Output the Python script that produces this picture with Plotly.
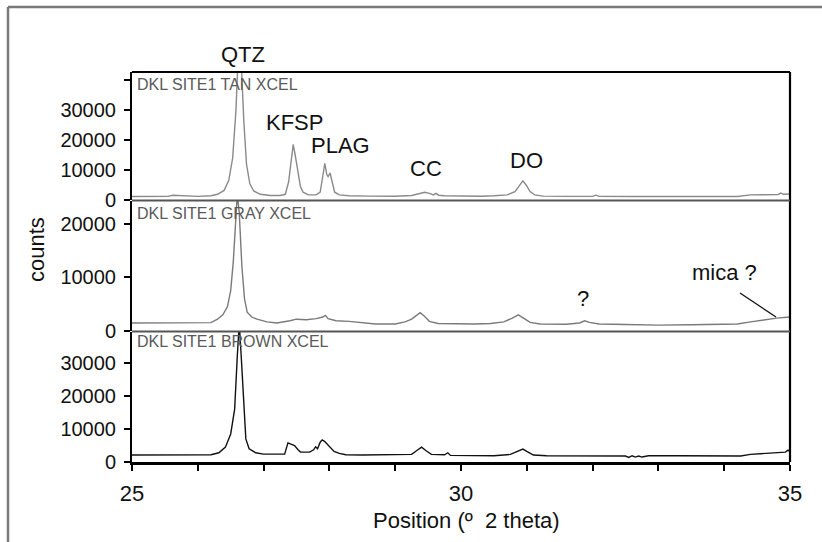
import plotly.graph_objects as go

# ---------------- data ----------------
tan_x = [25.00, 25.30, 25.55, 25.62, 25.70, 25.78, 26.00, 26.20, 26.30, 26.40, 26.47, 26.53, 26.58, 26.61,
         26.66, 26.70, 26.74, 26.79, 26.85, 26.95, 27.10, 27.25, 27.33, 27.38, 27.42, 27.45, 27.48, 27.52,
         27.56, 27.60, 27.68, 27.80, 27.86, 27.90, 27.93, 27.96, 27.98, 28.01, 28.04, 28.08, 28.15, 28.30,
         28.60, 29.00, 29.25, 29.38, 29.45, 29.52, 29.58, 29.62, 29.66, 29.75, 30.00, 30.30, 30.50, 30.70,
         30.82, 30.89, 30.94, 30.99, 31.05, 31.12, 31.25, 31.60, 32.00, 32.05, 32.10, 32.60, 33.50, 34.20,
         34.40, 34.70, 34.82, 34.86, 34.90, 35.00]
tan_y = [1150, 1150, 1200, 1600, 1500, 1250, 1200, 1400, 1900, 3200, 6500, 14000, 30000, 46000,
         46000, 26000, 12000, 5500, 3000, 1900, 1500, 1500, 1900, 6000, 14000, 18500, 15000, 9500,
         4500, 2600, 1700, 1700, 2600, 8000, 12200, 8500, 7800, 9000, 6500, 2600, 1700, 1400,
         1300, 1250, 1500, 2300, 2600, 2200, 1700, 2200, 1600, 1400, 1250, 1250, 1400, 1700,
         2800, 4800, 6400, 5000, 2800, 1700, 1300, 1200, 1200, 1600, 1200, 1150, 1150, 1150,
         1700, 1750, 1800, 2300, 1900, 2000]

gray_x = [25.00, 25.50, 26.00, 26.20, 26.30, 26.38, 26.45, 26.50, 26.54, 26.57, 26.60, 26.63, 26.67,
          26.71, 26.75, 26.82, 26.90, 27.05, 27.20, 27.40, 27.50, 27.65, 27.80, 27.90, 27.94, 27.98,
          28.10, 28.30, 28.50, 28.70, 29.00, 29.15, 29.25, 29.33, 29.38, 29.44, 29.52, 29.65, 29.90,
          30.20, 30.45, 30.65, 30.78, 30.87, 30.95, 31.05, 31.20, 31.60, 31.80, 31.88, 31.95, 32.10,
          32.50, 33.00, 33.50, 34.00, 34.20, 34.40, 34.60, 34.80, 35.00]
gray_y = [1500, 1500, 1500, 1550, 2200, 3000, 4500, 7500, 13000, 20000, 25500, 22000, 12000,
          6000, 3500, 2600, 2200, 1700, 1500, 1900, 2200, 2100, 2300, 2600, 2900, 2300,
          1900, 1800, 1500, 1300, 1300, 1700, 2200, 3000, 3400, 2800, 1800, 1400, 1300,
          1300, 1400, 1700, 2400, 3000, 2400, 1600, 1300, 1250, 1500, 1900, 1600, 1300,
          1200, 1100, 1150, 1200, 1300, 1700, 2100, 2400, 2600]

brown_x = [25.00, 25.50, 26.00, 26.20, 26.32, 26.42, 26.50, 26.56, 26.60, 26.63, 26.66, 26.70, 26.73,
           26.78, 26.88, 27.00, 27.20, 27.32, 27.37, 27.42, 27.47, 27.52, 27.56, 27.70, 27.76, 27.79,
           27.82, 27.86, 27.89, 27.93, 28.00, 28.07, 28.15, 28.25, 28.50, 29.00, 29.25, 29.35, 29.40,
           29.47, 29.55, 29.75, 29.80, 29.84, 30.10, 30.50, 30.75, 30.88, 30.94, 31.00, 31.10, 31.30,
           31.80, 32.20, 32.50, 32.55, 32.60, 32.65, 32.70, 32.75, 32.85, 33.30, 33.80, 34.25, 34.40,
           34.70, 34.93, 34.97, 35.00]
brown_y = [2100, 2100, 2100, 2200, 2800, 4500, 8500, 16000, 32000, 42000, 32000, 15000, 7000,
           4000, 2800, 2400, 2300, 2400, 5800, 5300, 5000, 3800, 3000, 3000, 3700, 4600,
           4000, 6000, 6700, 6200, 4800, 3200, 2600, 2200, 2100, 2100, 2300, 3800, 4500,
           3400, 2300, 2200, 2800, 2000, 1900, 1900, 2300, 3500, 3900, 3200, 2100, 1900,
           1900, 2000, 1800, 1400, 1900, 1500, 1800, 1500, 1900, 1900, 1800, 1800, 2300,
           2700, 3000, 3600, 3200]

panel_names = ["DKL SITE1 TAN XCEL", "DKL SITE1 GRAY XCEL", "DKL SITE1 BROWN XCEL"]
x_tick_vals = [25, 26, 27, 28, 29, 30, 31, 32, 33, 34, 35]
x_tick_text = ["25", "", "", "", "", "30", "", "", "", "", "35"]
peak_labels = ["QTZ", "KFSP", "PLAG", "CC", "DO", "?", "mica ?"]

# ---------------- layout helpers (pixel geometry) ----------------
W, H = 822, 542
FONT = "Liberation Sans, Arial, sans-serif"


def px(x):
    return x / W


def py(y):
    return 1 - y / H


X0, X1 = 132, 790
TOP = (72, 200)
MID = (201, 331)
BOT = (332, 462)

fig = go.Figure()
fig.add_trace(go.Scatter(x=tan_x, y=tan_y, mode="lines", xaxis="x", yaxis="y3",
                         line=dict(color="#8a8a8a", width=1.4), showlegend=False))
fig.add_trace(go.Scatter(x=gray_x, y=gray_y, mode="lines", xaxis="x", yaxis="y2",
                         line=dict(color="#7a7a7a", width=1.4), showlegend=False))
fig.add_trace(go.Scatter(x=brown_x, y=brown_y, mode="lines", xaxis="x", yaxis="y",
                         line=dict(color="#111111", width=1.4), showlegend=False))

yax_common = dict(showline=True, linecolor="black", linewidth=2, ticks="outside", ticklen=6,
                  tickcolor="black", tickwidth=1.5, showgrid=False, zeroline=False,
                  tickfont=dict(family=FONT, size=20, color="#111"), anchor="x",
                  ticklabelstandoff=4, automargin=False)

fig.update_layout(
    template="none",
    width=W, height=H, autosize=False,
    margin=dict(l=0, r=0, t=0, b=0, pad=0, autoexpand=False),
    paper_bgcolor="white", plot_bgcolor="white",
    xaxis=dict(domain=[px(X0), px(X1)], range=[25, 35], tickvals=x_tick_vals, ticktext=x_tick_text,
               ticks="outside", ticklen=6, tickwidth=1.5, tickcolor="black",
               showline=True, linecolor="black", linewidth=2.5, showgrid=False, zeroline=False,
               tickfont=dict(family=FONT, size=22, color="#111"), anchor="y",
               ticklabelstandoff=4, automargin=False),
    yaxis=dict(domain=[py(BOT[1]), py(BOT[0])], range=[0, 39400],
               tickvals=[0, 10000, 20000, 30000], ticktext=["0", "10000", "20000", "30000"],
               **yax_common),
    yaxis2=dict(domain=[py(MID[1]), py(MID[0])], range=[0, 24200],
                tickvals=[0, 10000, 20000], ticktext=["0", "10000", "20000"],
                **yax_common),
    yaxis3=dict(domain=[py(TOP[1]), py(TOP[0])], range=[0, 42667],
                tickvals=[0, 10000, 20000, 30000, 40000], ticktext=["0", "10000", "20000", "30000", ""],
                **yax_common),
)

shapes = []
# outer frame (left and top)
shapes.append(dict(type="line", xref="paper", yref="paper", x0=px(8), x1=px(8), y0=py(7), y1=0,
                   line=dict(color="#7a7a7a", width=2.5)))
shapes.append(dict(type="line", xref="paper", yref="paper", x0=px(8), x1=1, y0=py(7), y1=py(7),
                   line=dict(color="#7a7a7a", width=2.5)))
# panel frame: top and right
shapes.append(dict(type="line", xref="paper", yref="paper", x0=px(X0), x1=px(X1), y0=py(TOP[0]), y1=py(TOP[0]),
                   line=dict(color="black", width=2.2)))
shapes.append(dict(type="line", xref="paper", yref="paper", x0=px(X1), x1=px(X1), y0=py(TOP[0]), y1=py(BOT[1]),
                   line=dict(color="black", width=2.2)))
# panel separators
for ysep in (200.5, 331.5):
    shapes.append(dict(type="line", xref="paper", yref="paper", x0=px(X0), x1=px(X1), y0=py(ysep), y1=py(ysep),
                       line=dict(color="#555555", width=2)))
# pointer for "mica ?"
shapes.append(dict(type="line", xref="paper", yref="paper", x0=px(740), y0=py(293), x1=px(776), y1=py(317),
                   line=dict(color="#111", width=1.3)))
fig.update_layout(shapes=shapes)

ann = []
# panel names
for name, yc in zip(panel_names, (84, 213, 341)):
    ann.append(dict(text=name, xref="paper", yref="paper", x=px(135), y=py(yc), xanchor="left",
                    yanchor="middle", showarrow=False, font=dict(family=FONT, size=16, color="#5a5a5a")))
# peak labels
peak_pos = [(243, 55), (294, 122), (340, 145), (426, 168), (526, 160), (583, 298), (724, 272)]
for lab, (xx, yy) in zip(peak_labels, peak_pos):
    ann.append(dict(text=lab, xref="paper", yref="paper", x=px(xx), y=py(yy), xanchor="center",
                    yanchor="middle", showarrow=False, font=dict(family=FONT, size=22, color="#111")))
# axis titles
ann.append(dict(text="counts", xref="paper", yref="paper", x=px(37), y=py(250), textangle=-90,
                xanchor="center", yanchor="middle", showarrow=False,
                font=dict(family=FONT, size=22, color="#111")))
ann.append(dict(text="Position (º&nbsp; 2 theta)", xref="paper", yref="paper", x=px(466), y=py(520),
                xanchor="center", yanchor="middle", showarrow=False,
                font=dict(family=FONT, size=22, color="#111")))
fig.update_layout(annotations=ann)

fig.write_html("out.html", config={"displayModeBar": False},
               post_script="document.body.style.margin='0';document.body.style.overflow='hidden';")
